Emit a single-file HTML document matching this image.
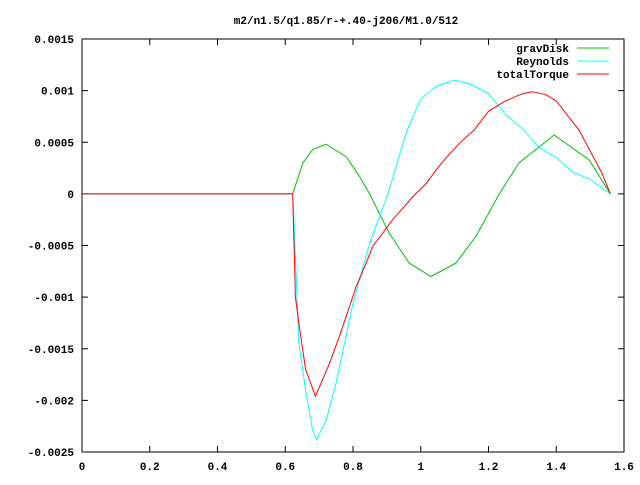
<!DOCTYPE html>
<html><head><meta charset="utf-8"><style>
body{margin:0;background:#fff}
svg text{font-family:"Liberation Mono","DejaVu Sans Mono",monospace;font-size:11px;font-weight:bold;fill:#000}
</style></head><body>
<svg id="chart" width="640" height="480" xmlns="http://www.w3.org/2000/svg">
<rect width="640" height="480" fill="#fff"/>
<text x="346" y="24" text-anchor="middle">m2/n1.5/q1.85/r-+.40-j206/M1.0/512</text>
<rect x="82" y="39" width="542" height="413" fill="none" stroke="#000" stroke-width="1"/>
<g id="axes"></g>
<g id="series"></g>
<g id="legend"></g>
</svg>
<script>
const xTicks=[0,0.2,0.4,0.6,0.8,1,1.2,1.4,1.6];
const xTickLabels=["0","0.2","0.4","0.6","0.8","1","1.2","1.4","1.6"];
const yTicks=[0.0015,0.001,0.0005,0,-0.0005,-0.001,-0.0015,-0.002,-0.0025];
const yTickLabels=["0.0015","0.001","0.0005","0","-0.0005","-0.001","-0.0015","-0.002","-0.0025"];
const seriesNames=["gravDisk","Reynolds","totalTorque"];
const gravX=[0,0.622,0.652,0.681,0.721,0.78,0.819,0.849,0.907,0.966,1.03,1.104,1.163,1.232,1.29,1.394,1.497,1.56];
const gravY=[0,0,0.0003,0.00043,0.00048,0.00036,0.00017,0,-0.00038,-0.00067,-0.0008,-0.00067,-0.00041,0,0.0003,0.00057,0.00033,0];
const reyX=[0,0.622,0.63,0.64,0.66,0.68,0.692,0.72,0.75,0.8,0.85,0.9,0.96,1.0,1.05,1.1,1.15,1.2,1.25,1.3,1.35,1.4,1.45,1.5,1.56];
const reyY=[0,0,-0.0006,-0.00144,-0.0019,-0.00228,-0.00238,-0.0022,-0.00183,-0.00106,-0.00047,-0.00003,0.00062,0.00092,0.00105,0.0011,0.00106,0.00097,0.00077,0.00063,0.00045,0.00035,0.00021,0.00014,0];
const totX=[0,0.622,0.63,0.64,0.66,0.689,0.731,0.76,0.79,0.809,0.839,0.858,0.888,0.917,0.947,0.976,1.016,1.045,1.075,1.114,1.158,1.2,1.25,1.3,1.33,1.37,1.4,1.467,1.535,1.56];
const totY=[0,0,-0.001,-0.00125,-0.0017,-0.00196,-0.00164,-0.00138,-0.00109,-0.0009,-0.00067,-0.00051,-0.00038,-0.00025,-0.00014,-0.00003,0.0001,0.00023,0.00035,0.00049,0.00062,0.0008,0.0009,0.00097,0.00099,0.00096,0.0009,0.00062,0.0002,0];
const colors=["#00c000","#00ffff","#ff0000"];
const L=82,R=624,T=39,B=452;
const sx=v=>L+(v-0)/(1.6-0)*(R-L);
const sy=v=>T+(0.0015-v)/(0.0015+0.0025)*(B-T);
const NS="http://www.w3.org/2000/svg";
const ax=document.getElementById('axes');
function mk(t,a,p){const e=document.createElementNS(NS,t);for(const k in a)e.setAttribute(k,a[k]);p.appendChild(e);return e;}
xTicks.forEach((v,i)=>{
 const x=sx(v);
 const t1=mk('line',{x1:x,y1:B,x2:x,y2:B-6,stroke:'#000'},ax);
 
 
 mk('line',{x1:x,y1:T,x2:x,y2:T+6,stroke:'#000'},ax);
 const tx=mk('text',{x:x,y:B+18,'text-anchor':'middle'},ax);tx.textContent=xTickLabels[i];
 
 
});
yTicks.forEach((v,i)=>{
 const y=sy(v);
 const t1=mk('line',{x1:L,y1:y,x2:L+6,y2:y,stroke:'#000'},ax);
 
 
 mk('line',{x1:R,y1:y,x2:R-6,y2:y,stroke:'#000'},ax);
 const tx=mk('text',{x:L-8,y:y+4,'text-anchor':'end'},ax);tx.textContent=yTickLabels[i];
 
 
});
const sg=document.getElementById('series');
[[gravX,gravY],[reyX,reyY],[totX,totY]].forEach((d,k)=>{
 const pts=d[0].map((x,i)=>sx(x).toFixed(1)+','+sy(d[1][i]).toFixed(1)).join(' ');
 const pl=mk('polyline',{points:pts,fill:'none',stroke:colors[k],'stroke-width':1},sg);
 
 
});
const lg=document.getElementById('legend');
seriesNames.forEach((n,k)=>{
 const y=48+k*13;
 const tx=mk('text',{x:569,y:y+4,'text-anchor':'end'},lg);tx.textContent=n;
 
 
 const ln=mk('line',{x1:577,y1:y,x2:609,y2:y,stroke:colors[k]},lg);
 
 
});
</script>
</body></html>
